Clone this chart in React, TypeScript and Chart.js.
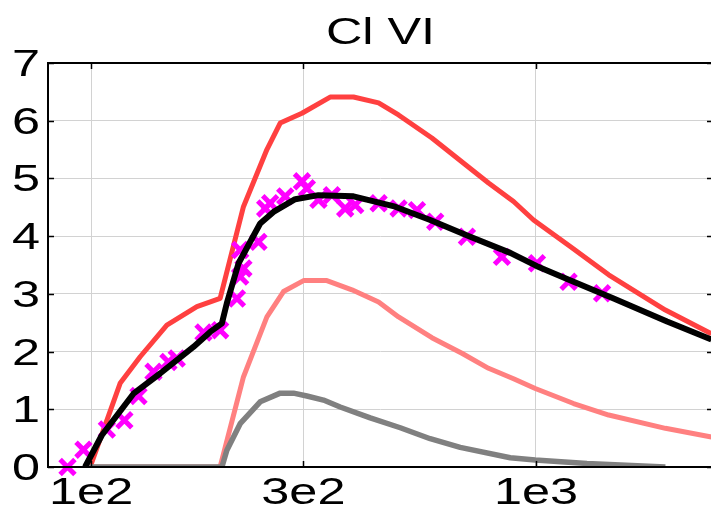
import React, { useEffect, useRef } from "react";
import { Chart, registerables } from "chart.js";

Chart.register(...registerables);

const TITLE = "Cl VI";
const FONT = "'Liberation Sans', Arial, sans-serif";
const X_MIN = 80;
const X_MAX = 2500;
const Y_MIN = 0;
const Y_MAX = 7;
const xTickValues = [100, 300, 1000];
const xTickLabels = ["1e2", "3e2", "1e3"];
const yTickValues = [0, 1, 2, 3, 4, 5, 6, 7];
const yTickLabels = ["0", "1", "2", "3", "4", "5", "6", "7"];

// upper envelope (bright red)
const upperX = [99.5, 116.2, 128.9, 148.0, 172.9, 195.0, 220.0, 248.4, 266.1, 297.8, 344.6, 388.9, 442.8, 491.0, 583.5, 693.4, 782.3, 890.5, 987.6, 1194, 1457, 1954, 2479];
const upperY = [0, 1.45, 1.91, 2.46, 2.78, 2.92, 4.51, 5.50, 5.96, 6.13, 6.41, 6.41, 6.31, 6.10, 5.70, 5.24, 4.92, 4.60, 4.28, 3.82, 3.33, 2.72, 2.31];

// model curve (black)
const modelX = [96.9, 105.7, 124.5, 142.9, 169.8, 185.2, 196.8, 201.9, 214.5, 239.9, 257.0, 287.6, 324.4, 388.9, 482.6, 578.4, 711.6, 875.4, 1005, 1215, 1495, 1971, 2479];
const modelY = [0, 0.55, 1.27, 1.62, 2.08, 2.34, 2.49, 2.84, 3.53, 4.22, 4.42, 4.64, 4.71, 4.69, 4.51, 4.28, 3.99, 3.71, 3.48, 3.21, 2.92, 2.52, 2.21];

// middle component (light red)
const midX = [99.0, 195.0, 220.0, 248.4, 270.7, 300.3, 338.8, 385.7, 442.8, 491.0, 583.5, 681.5, 782.3, 890.5, 996.3, 1215, 1457, 1954, 2479];
const midY = [0, 0, 1.56, 2.60, 3.04, 3.23, 3.23, 3.07, 2.86, 2.60, 2.24, 1.97, 1.71, 1.53, 1.36, 1.10, 0.90, 0.67, 0.52];

// lower component (gray)
const lowX = [99.0, 196.8, 201.9, 216.3, 239.9, 266.1, 285.1, 305.5, 332.9, 363.0, 424.1, 495.4, 578.4, 675.6, 875.4, 996.3, 1302, 1954];
const lowY = [0, 0, 0.29, 0.75, 1.13, 1.28, 1.28, 1.23, 1.16, 1.04, 0.85, 0.68, 0.49, 0.34, 0.16, 0.12, 0.06, 0];

// measured points (magenta crosses)
const obsX = [88.5, 96.1, 108.5, 118.8, 127.8, 138.1, 149.2, 155.8, 178.9, 195.0, 212.7, 216.3, 220.0, 216.3, 237.8, 246.2, 252.6, 273.1, 297.8, 305.5, 324.4, 347.7, 372.5, 392.4, 442.8, 491.0, 540.1, 593.6, 699.5, 838.5, 1005, 1184, 1408];
const obsY = [0, 0.30, 0.65, 0.81, 1.23, 1.65, 1.82, 1.88, 2.33, 2.37, 2.92, 3.30, 3.44, 3.76, 3.90, 4.48, 4.57, 4.69, 4.95, 4.83, 4.63, 4.71, 4.48, 4.54, 4.57, 4.48, 4.45, 4.25, 3.99, 3.64, 3.53, 3.21, 3.01];

const zip = (xs: number[], ys: number[]) => xs.map((x, i) => ({ x, y: ys[i] }));

// Text in this figure is drawn wide; stretch glyphs horizontally.
const TEXT_STRETCH = 1.4;
const FONT_SIZE = 36;

function stretchedText(ctx: CanvasRenderingContext2D, text: string, x: number, y: number, align: "left" | "center" | "right") {
  ctx.save();
  ctx.translate(x, y);
  ctx.scale(TEXT_STRETCH, 1);
  ctx.textAlign = align;
  ctx.textBaseline = "alphabetic";
  ctx.fillText(text, 0, 0);
  ctx.restore();
}

const framePlugin = {
  id: "matlabFrame",
  afterDatasetsDraw(chart: any) {
    const { ctx, chartArea: a, scales } = chart;
    ctx.save();
    ctx.strokeStyle = "#000";
    ctx.lineWidth = 2;
    ctx.strokeRect(a.left, a.top, a.right - a.left, a.bottom - a.top);
    const len = 6;
    ctx.beginPath();
    xTickValues.forEach((v) => {
      const px = Math.round(scales.x.getPixelForValue(v)) + 0.5;
      ctx.moveTo(px, a.bottom);
      ctx.lineTo(px, a.bottom - len);
      ctx.moveTo(px, a.top);
      ctx.lineTo(px, a.top + len);
    });
    yTickValues.forEach((v) => {
      const py = Math.round(scales.y.getPixelForValue(v)) + 0.5;
      ctx.moveTo(a.left, py);
      ctx.lineTo(a.left + len, py);
      ctx.moveTo(a.right, py);
      ctx.lineTo(a.right - len, py);
    });
    ctx.lineWidth = 1.5;
    ctx.stroke();

    ctx.fillStyle = "#000";
    ctx.font = `${FONT_SIZE}px ${FONT}`;
    xTickValues.forEach((v, i) => {
      const px = scales.x.getPixelForValue(v);
      stretchedText(ctx, xTickLabels[i], px, a.bottom + 37, "center");
    });
    yTickValues.forEach((v, i) => {
      const py = scales.y.getPixelForValue(v);
      stretchedText(ctx, yTickLabels[i], 40, py + 13, "right");
    });
    stretchedText(ctx, TITLE, (a.left + a.right) / 2, 44, "center");
    ctx.restore();
  },
};

export default function App() {
  const canvasRef = useRef<HTMLCanvasElement | null>(null);

  useEffect(() => {
    const canvas = canvasRef.current;
    if (!canvas) return;
    const lineDs = (label: string, data: any[], color: string, width: number) => ({
      label,
      data,
      borderColor: color,
      backgroundColor: color,
      borderWidth: width,
      pointRadius: 0,
      fill: false,
      tension: 0,
      borderJoinStyle: "round" as const,
    });
    const chart = new Chart(canvas, {
      type: "line",
      data: {
        datasets: [
          lineDs("model", zip(modelX, modelY), "#000000", 6),
          {
            label: "observed",
            data: zip(obsX, obsY),
            showLine: false,
            pointStyle: "crossRot",
            pointRadius: 10.5,
            pointBorderWidth: 5,
            pointBorderColor: "#ff00ff",
            pointBackgroundColor: "#ff00ff",
            borderColor: "#ff00ff",
            clip: false,
          } as any,
          lineDs("low", zip(lowX, lowY), "#808080", 5.5),
          lineDs("mid", zip(midX, midY), "#ff8080", 5),
          lineDs("upper", zip(upperX, upperY), "#ff4040", 5),
        ],
      },
      options: {
        responsive: false,
        animation: false,
        devicePixelRatio: 1,
        layout: { autoPadding: false, padding: { left: 0, right: 0, top: 63, bottom: 0 } },
        plugins: {
          legend: { display: false },
          title: { display: false },
          tooltip: { enabled: false },
        },
        scales: {
          x: {
            type: "logarithmic",
            min: X_MIN,
            max: X_MAX,
            afterBuildTicks: (s: any) => {
              s.ticks = xTickValues.map((v) => ({ value: v }));
            },
            afterFit: (s: any) => {
              s.height = 41;
            },
            ticks: { display: false },
            grid: { color: "#d2d2d2", lineWidth: 1, drawTicks: false },
            border: { display: false },
          },
          y: {
            type: "linear",
            min: Y_MIN,
            max: Y_MAX,
            afterBuildTicks: (s: any) => {
              s.ticks = yTickValues.map((v) => ({ value: v }));
            },
            afterFit: (s: any) => {
              s.width = 48;
            },
            ticks: { display: false },
            grid: { color: "#d2d2d2", lineWidth: 1, drawTicks: false },
            border: { display: false },
          },
        },
      } as any,
      plugins: [framePlugin],
    });
    return () => chart.destroy();
  }, []);

  return (
    <div
      style={{
        position: "absolute",
        left: 0,
        top: 0,
        width: 711,
        height: 508,
        overflow: "hidden",
        background: "#ffffff",
      }}
    >
      <canvas ref={canvasRef} width={713} height={508} style={{ display: "block" }} />
    </div>
  );
}
